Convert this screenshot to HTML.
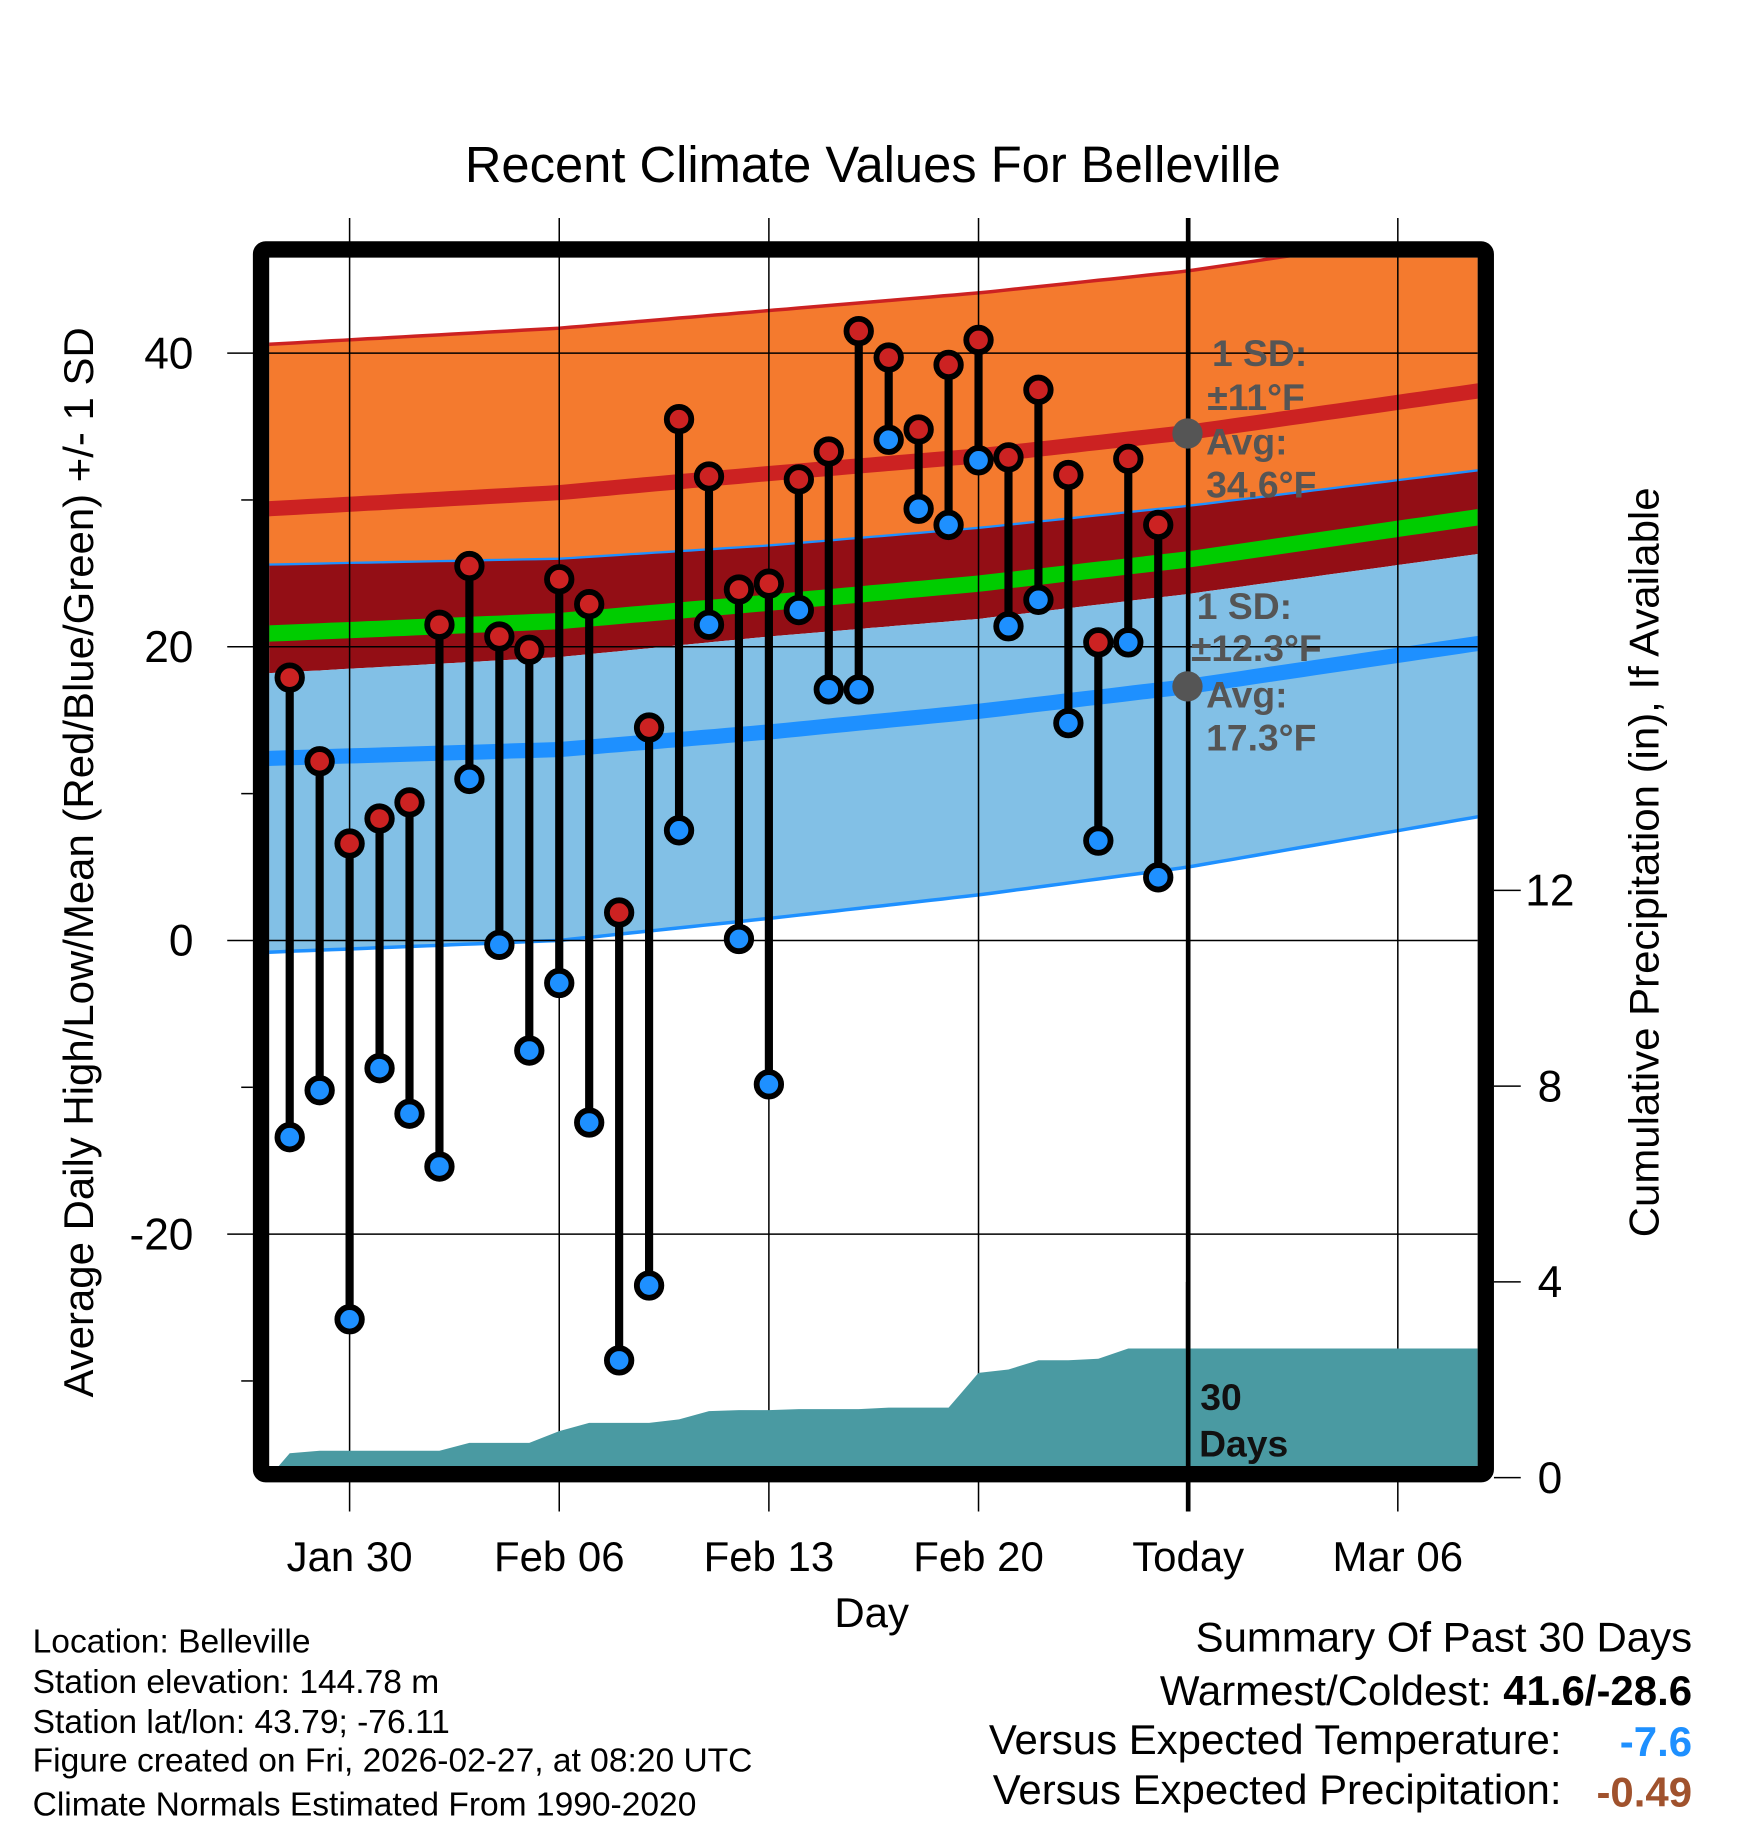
<!DOCTYPE html>
<html><head><meta charset="utf-8"><style>
html,body{margin:0;padding:0;background:#fff}
svg{display:block;font-family:"Liberation Sans",sans-serif}
</style></head><body>
<svg id="chart" xmlns="http://www.w3.org/2000/svg" width="1748" height="1828" viewBox="0 0 1500 1568.6">
<defs><clipPath id="plotClip"><rect x="231" y="221" width="1037" height="1038"/></clipPath></defs>
<g id="bands" clip-path="url(#plotClip)"></g>
<g id="grid"></g>
<g id="precip" clip-path="url(#plotClip)"></g>
<g id="marks"></g>
<g id="annot">
  <circle cx="1019" cy="372" r="13" fill="#555"/>
  <circle cx="1019" cy="589" r="13" fill="#555"/>
  <g fill="#555" font-weight="bold" font-size="32">
    <text x="1040" y="314">1 SD:</text><text x="1036" y="352">±11°F</text>
    <text x="1035" y="390">Avg:</text><text x="1035" y="427">34.6°F</text>
  </g>
  <g fill="#555" font-weight="bold" font-size="32">
    <text x="1027" y="531">1 SD:</text><text x="1022" y="567">±12.3°F</text>
    <text x="1035" y="607">Avg:</text><text x="1035" y="644">17.3°F</text>
  </g>
  <g fill="#111" font-weight="bold" font-size="32">
    <text x="1030" y="1210">30</text><text x="1029" y="1250">Days</text>
  </g>
</g>
<rect x="224" y="214" width="1051" height="1051" rx="4" fill="none" stroke="#000" stroke-width="14"/>
<text x="749" y="156" font-size="43.5" text-anchor="middle">Recent Climate Values For Belleville</text>
<text transform="translate(80,740) rotate(-90)" font-size="36" text-anchor="middle">Average Daily High/Low/Mean (Red/Blue/Green) +/- 1 SD</text>
<text transform="translate(1423,740) rotate(-90)" font-size="36" text-anchor="middle">Cumulative Precipitation (in), If Available</text>
<text x="748" y="1396" font-size="36" text-anchor="middle">Day</text>
<g font-size="28.8">
  <text x="28" y="1418">Location: Belleville</text>
  <text x="28" y="1453">Station elevation: 144.78 m</text>
  <text x="28" y="1487">Station lat/lon: 43.79; -76.11</text>
  <text x="28" y="1520">Figure created on Fri, 2026-02-27, at 08:20 UTC</text>
  <text x="28" y="1558">Climate Normals Estimated From 1990-2020</text>
</g>
<g font-size="36">
  <text x="1452" y="1417" text-anchor="end">Summary Of Past 30 Days</text>
  <text x="1452" y="1463" text-anchor="end">Warmest/Coldest: <tspan font-weight="bold">41.6/-28.6</tspan></text>
  <text x="1340" y="1505" text-anchor="end">Versus Expected Temperature:</text>
  <text x="1452" y="1507" text-anchor="end" fill="#1e90ff" font-weight="bold">-7.6</text>
  <text x="1340" y="1548" text-anchor="end">Versus Expected Precipitation:</text>
  <text x="1452" y="1550" text-anchor="end" fill="#a0522d" font-weight="bold">-0.49</text>
</g>
</svg>
<script>
var days=[-2,-1,0,1,2,3,4,5,6,7,8,9,10,11,12,13,14,15,16,17,18,19,20,21,22,23,24,25,26,27];
var highs=[17.9,12.2,6.6,8.3,9.4,21.5,25.5,20.7,19.8,24.6,22.9,1.9,14.5,35.5,31.6,23.9,24.3,31.4,33.3,41.5,39.7,34.8,39.2,40.9,32.9,37.5,31.7,20.3,32.8,28.3];
var lows=[-13.4,-10.2,-25.8,-8.7,-11.8,-15.4,11.0,-0.3,-7.5,-2.9,-12.4,-28.6,-23.5,7.5,21.5,0.1,-9.8,22.5,17.1,17.1,34.1,29.4,28.3,32.7,21.4,23.2,14.8,6.8,20.3,4.3];
var precip=[0.50,0.55,0.55,0.55,0.55,0.55,0.71,0.71,0.71,0.95,1.12,1.12,1.12,1.19,1.36,1.38,1.38,1.40,1.40,1.40,1.43,1.43,1.43,2.14,2.21,2.40,2.40,2.43,2.64,2.64];
var normDays=[-2.7,7,14,21,28,37.6];
var normHigh=[29.4,30.5,31.8,33.0,34.6,37.4];
var normLow=[12.4,13.0,14.2,15.6,17.3,20.2];
var highSD=[11.2,11.2,11.1,11.1,11.0,11.1];
var lowSD=[13.2,13.0,12.7,12.5,12.3,11.8];
var xTickDays=[0,7,14,21,28,35];
var xTickLabels=["Jan 30","Feb 06","Feb 13","Feb 20","Today","Mar 06"];
var yTicks=[40,20,0,-20];
var yMinor=[30,10,-10,-30];
var pTicks=[0,4,8,12];

var NS="http://www.w3.org/2000/svg";
function X(d){return 300+25.7*d;}
function Y(v){return 807-12.6*v;}
function YP(p){return 1268-42*p;}
function mk(tag,attrs,parent){var e=document.createElementNS(NS,tag);for(var k in attrs)e.setAttribute(k,attrs[k]);parent.appendChild(e);return e;}
function interp(arr,d){for(var i=0;i<normDays.length-1;i++){if(d<=normDays[i+1]||i==normDays.length-2){var t=(d-normDays[i])/(normDays[i+1]-normDays[i]);return arr[i]+t*(arr[i+1]-arr[i]);}}}
var samples=[];for(var d=-3;d<=38.6;d+=0.4)samples.push(d);
function curve(f){return samples.map(function(d){return X(d).toFixed(1)+","+Y(f(d)).toFixed(1);});}
function band(fu,fl){var a=curve(fu),b=curve(fl).reverse();return "M"+a.join("L")+"L"+b.join("L")+"Z";}
var hU=function(d){return interp(normHigh,d)+interp(highSD,d);};
var hL=function(d){return interp(normHigh,d)-interp(highSD,d);};
var lU=function(d){return interp(normLow,d)+interp(lowSD,d);};
var lL=function(d){return interp(normLow,d)-interp(lowSD,d);};
var mean=function(d){return (interp(normHigh,d)+interp(normLow,d))/2;};
var bands=document.getElementById('bands');
var e;
e=mk('path',{d:band(hU,lU),fill:'#f47a2e'},bands);


e=mk('path',{d:band(lU,hL),fill:'#930e15'},bands);


e=mk('path',{d:band(hL,lL),fill:'#82c0e6'},bands);


e=mk('path',{d:"M"+curve(hU).join("L"),fill:'none',stroke:'#cc2222','stroke-width':3},bands);


e=mk('path',{d:"M"+curve(lU).join("L"),fill:'none',stroke:'#1e90ff','stroke-width':2},bands);


e=mk('path',{d:"M"+curve(lL).join("L"),fill:'none',stroke:'#1e90ff','stroke-width':3},bands);


e=mk('path',{d:"M"+curve(function(d){return interp(normHigh,d);}).join("L"),fill:'none',stroke:'#cc2222','stroke-width':13},bands);


e=mk('path',{d:"M"+curve(mean).join("L"),fill:'none',stroke:'#00cc00','stroke-width':14},bands);


e=mk('path',{d:"M"+curve(function(d){return interp(normLow,d);}).join("L"),fill:'none',stroke:'#1e90ff','stroke-width':13},bands);



var grid=document.getElementById('grid');
xTickDays.forEach(function(d,i){
  var today=xTickLabels[i]=="Today";
  e=mk('line',{x1:X(d),x2:X(d),y1:187,y2:1297,stroke:'#000','stroke-width':today?4:1.3},grid);
  
  
  e=mk('text',{x:X(d),y:1348,'font-size':36,'text-anchor':'middle'},grid);
  e.textContent=xTickLabels[i];
  
  
});
yTicks.forEach(function(v){
  e=mk('line',{x1:195,x2:1268,y1:Y(v),y2:Y(v),stroke:'#000','stroke-width':1.3},grid);
  
  
  e=mk('text',{x:166,y:Y(v)+13,'font-size':38,'text-anchor':'end'},grid);
  e.textContent=v;
  
  
});
yMinor.forEach(function(v){
  e=mk('line',{x1:207,x2:217,y1:Y(v),y2:Y(v),stroke:'#000','stroke-width':1.3},grid);
  
  
});
pTicks.forEach(function(p){
  e=mk('line',{x1:1282,x2:1305,y1:YP(p),y2:YP(p),stroke:'#000','stroke-width':1.3},grid);
  
  
  e=mk('text',{x:1330,y:YP(p)+13,'font-size':38,'text-anchor':'middle'},grid);
  e.textContent=p;
  
  
});

var pg=document.getElementById('precip');
var pts=[X(-2.7)+","+YP(0)];
days.forEach(function(d,i){pts.push(X(d)+","+YP(precip[i]));});
pts.push(X(38.6)+","+YP(precip[precip.length-1]));
pts.push(X(38.6)+","+YP(0));
e=mk('polygon',{points:pts.join(" "),fill:'#4a9aa2'},pg);


e=mk('line',{x1:X(28),x2:X(28),y1:1100,y2:1259,stroke:'#000','stroke-width':4},pg);



var marks=document.getElementById('marks');
days.forEach(function(d,i){
  e=mk('line',{x1:X(d),x2:X(d),y1:Y(highs[i]),y2:Y(lows[i]),stroke:'#000','stroke-width':7},marks);
  
  
});
days.forEach(function(d,i){
  e=mk('circle',{cx:X(d),cy:Y(lows[i]),r:10.5,fill:'#1e90ff',stroke:'#000','stroke-width':5},marks);
  
  
  e=mk('circle',{cx:X(d),cy:Y(highs[i]),r:10.5,fill:'#cc2222',stroke:'#000','stroke-width':5},marks);
  
  
});
</script>
</body></html>
